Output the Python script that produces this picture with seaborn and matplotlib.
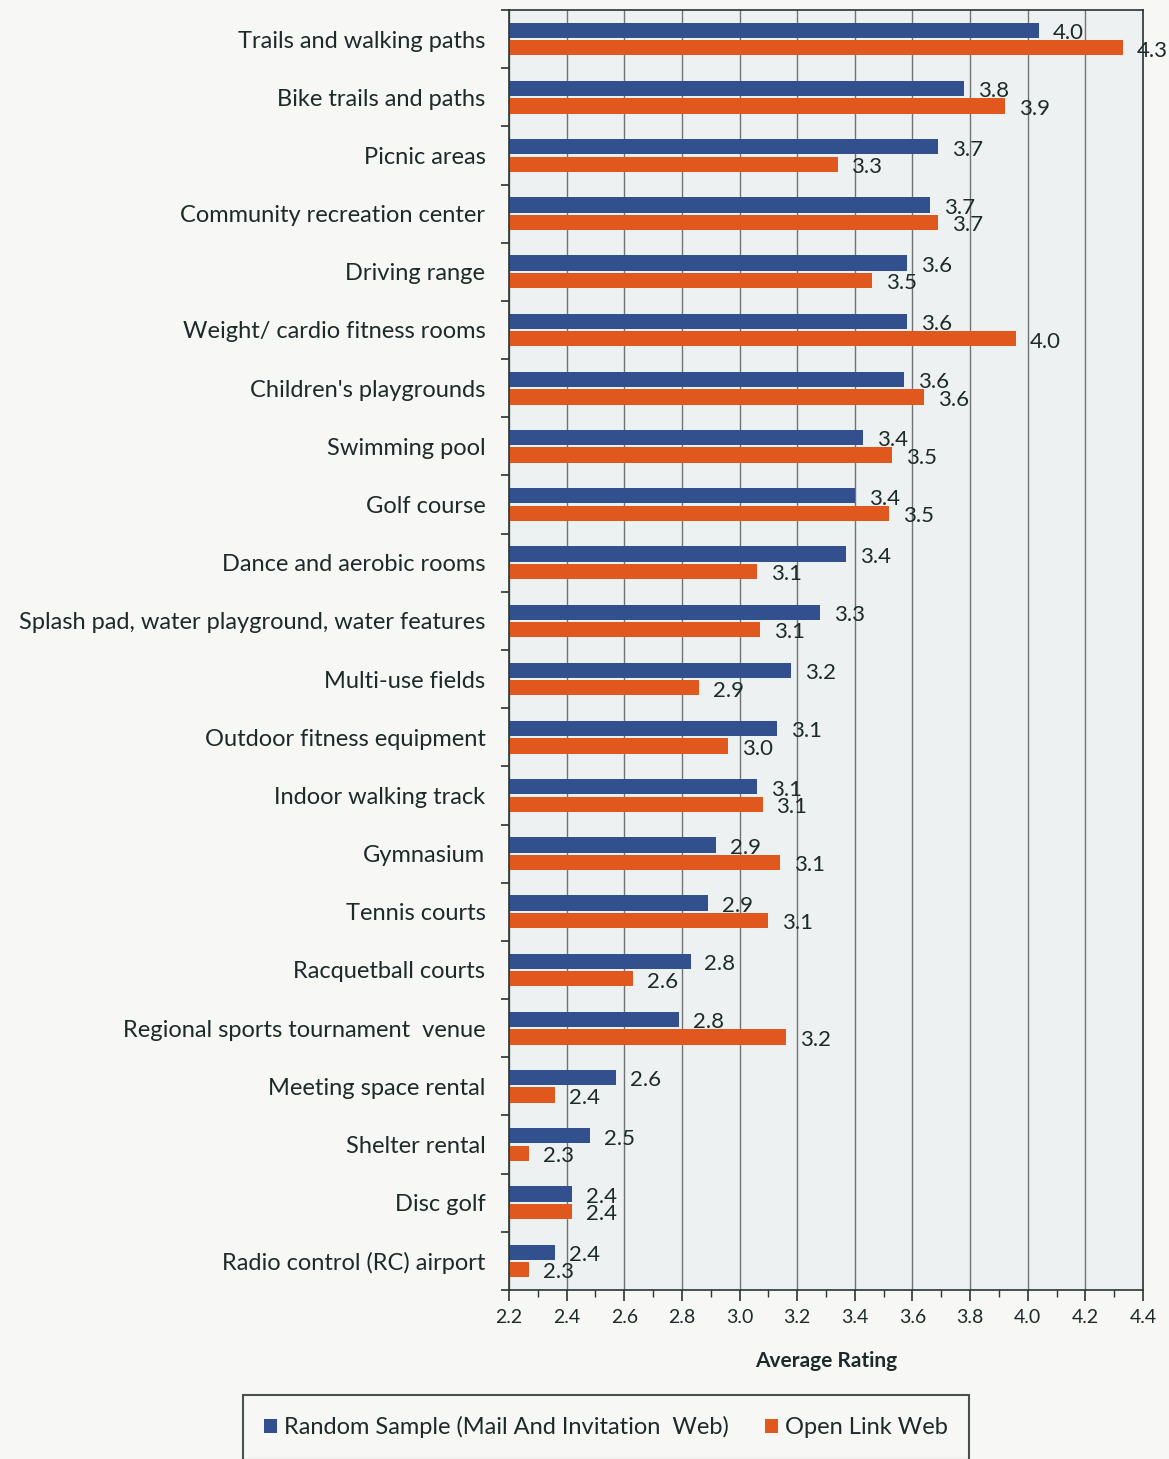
import numpy as np
import pandas as pd
import matplotlib
matplotlib.use("Agg")
import matplotlib.pyplot as plt
import seaborn as sns

categories = [
    "Trails and walking paths",
    "Bike trails and paths",
    "Picnic areas",
    "Community recreation center",
    "Driving range",
    "Weight/ cardio fitness rooms",
    "Children's playgrounds",
    "Swimming pool",
    "Golf course",
    "Dance and aerobic rooms",
    "Splash pad, water playground, water features",
    "Multi-use fields",
    "Outdoor fitness equipment",
    "Indoor walking track",
    "Gymnasium",
    "Tennis courts",
    "Racquetball courts",
    "Regional sports tournament  venue",
    "Meeting space rental",
    "Shelter rental",
    "Disc golf",
    "Radio control (RC) airport",
]

random_sample = [4.04, 3.78, 3.69, 3.66, 3.58, 3.58, 3.57, 3.43, 3.40, 3.37, 3.28,
                 3.18, 3.13, 3.06, 2.92, 2.89, 2.83, 2.79, 2.57, 2.48, 2.42, 2.36]
open_link = [4.33, 3.92, 3.34, 3.69, 3.46, 3.96, 3.64, 3.53, 3.52, 3.06, 3.07,
             2.86, 2.96, 3.08, 3.14, 3.10, 2.63, 3.16, 2.36, 2.27, 2.42, 2.27]

series_names = ["Random Sample (Mail And Invitation  Web)", "Open Link Web"]
x_ticks = [2.2, 2.4, 2.6, 2.8, 3.0, 3.2, 3.4, 3.6, 3.8, 4.0, 4.2, 4.4]

df = pd.DataFrame({
    "Facility": categories * 2,
    "Rating": random_sample + open_link,
    "Source": [series_names[0]] * len(categories) + [series_names[1]] * len(categories),
})

sns.set_theme(style="white")
plt.rcParams["font.family"] = ["Lato", "DejaVu Sans"]

text_color = "#1c2a2a"
blue = "#33508e"
orange = "#e0581d"

fig = plt.figure(figsize=(11.69, 14.59), dpi=100, facecolor="#f7f7f5")
ax = fig.add_axes([509 / 1169, 1 - 1290 / 1459, (1143 - 509) / 1169, (1290 - 10) / 1459])
ax.set_facecolor("#eef1f2")

sns.barplot(data=df, y="Facility", x="Rating", hue="Source", orient="h",
            palette=[blue, orange], width=0.6, gap=0.13, saturation=1,
            linewidth=0, ax=ax)

ax.set_xlim(2.2, 4.4)
ax.set_ylim(len(categories) - 0.5, -0.5)
ax.set_xticks(x_ticks)
ax.set_xticklabels([f"{t:.1f}" for t in x_ticks])
ax.set_xticks(np.arange(2.3, 4.4, 0.2), minor=True)
ax.set_yticks(np.arange(-0.5, len(categories), 1), minor=True)

ax.xaxis.grid(True, which="major", color="#6f7472", linewidth=1.0)
ax.yaxis.grid(False)
ax.set_axisbelow(True)

for side in ["left", "bottom", "top", "right"]:
    ax.spines[side].set_visible(True)
    ax.spines[side].set_color("#2a3432")
    ax.spines[side].set_linewidth(1.2)

ax.tick_params(axis="y", which="major", length=0, pad=17, labelsize=17, labelcolor=text_color)
ax.tick_params(axis="y", which="minor", left=True, length=6, width=1.2, color="#2a3432", direction="out")
ax.tick_params(axis="x", which="major", bottom=True, length=8, width=1.2, color="#2a3432",
               direction="out", labelsize=14, labelcolor=text_color, pad=6)
ax.tick_params(axis="x", which="minor", bottom=True, length=5, width=1.0, color="#2a3432", direction="out")

ax.set_ylabel("")
ax.set_xlabel("Average Rating", fontsize=15, fontweight="bold", color=text_color, labelpad=18)

for container in ax.containers:
    labels_drawn = ax.bar_label(container, fmt="%.1f", padding=10, fontsize=16, color=text_color)
    for lab in labels_drawn:
        lab.xyann = (10, -2)

handles, labels = ax.get_legend_handles_labels()
ax.get_legend().remove()
leg = fig.legend(handles, labels, loc="upper left",
                 bbox_to_anchor=(243 / 1169, 1 - 1395 / 1459),
                 ncol=2, frameon=True, fancybox=False, fontsize=17,
                 handlelength=0.55, handleheight=0.55, handletextpad=0.3,
                 columnspacing=1.5, borderpad=0.9, borderaxespad=0)
leg.get_frame().set_edgecolor("#1e2826")
leg.get_frame().set_linewidth(1.5)
leg.get_frame().set_facecolor("#f7f7f5")
for t in leg.get_texts():
    t.set_color(text_color)

fig.savefig("out.png", dpi=100, facecolor=fig.get_facecolor())
